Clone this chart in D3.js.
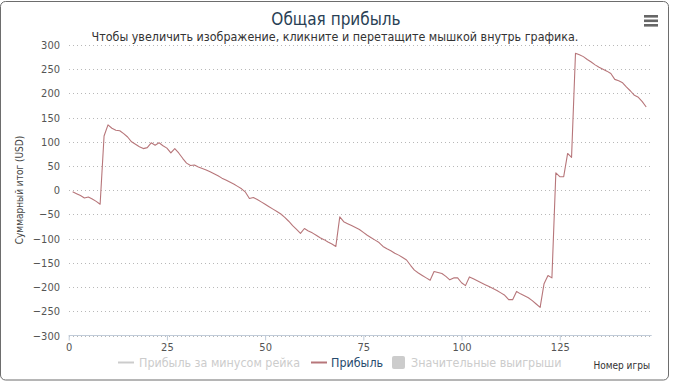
<!DOCTYPE html>
<html><head><meta charset="utf-8">
<script src="https://cdn.jsdelivr.net/npm/d3@7"></script>
<style>
html,body{margin:0;padding:0;background:#fff;}
svg{display:block;font-family:"DejaVu Sans Condensed","DejaVu Sans",sans-serif;}
</style></head><body>
<svg id="c" width="673" height="383"></svg>
<script>
const title = "Общая прибыль";
const subtitle = "Чтобы увеличить изображение, кликните и перетащите мышкой внутрь графика.";
const yTitle = "Суммарный итог (USD)";
const xTitle = "Номер игры";
const legendNames = ["Прибыль за минусом рейка", "Прибыль", "Значительные выигрыши"];
const xTicks = [0, 25, 50, 75, 100, 125];
const yTicks = [-300, -250, -200, -150, -100, -50, 0, 50, 100, 150, 200, 250, 300];
const profit = [
 -3, -7, -11, -16, -14, -18, -23, -29, 112, 135,
 128, 124, 123, 117, 110, 100, 95, 90, 86, 88,
 98, 93, 98, 92, 87, 77, 86, 77, 66, 56,
 51, 52, 48, 45, 42, 38, 34, 30, 25, 21,
 17, 13, 8, 3, -4, -17, -15, -19, -24, -29,
 -34, -39, -44, -49, -56, -64, -73, -81, -89, -79,
 -84, -88, -93, -98, -102, -107, -111, -116, -55, -65,
 -69, -73, -77, -81, -87, -93, -98, -103, -108, -116,
 -121, -125, -130, -134, -139, -144, -155, -165, -171, -176,
 -181, -186, -168, -170, -172, -178, -185, -181, -181, -191,
 -197, -179, -183, -187, -191, -195, -199, -203, -207, -212,
 -217, -226, -226, -209, -214, -218, -222, -228, -235, -242,
 -193, -176, -181, 36, 28, 28, 76, 68, 283, 280,
 276, 270, 265, 259, 254, 250, 246, 241, 229, 226,
 222, 213, 205, 196, 192, 183, 172
];

const svg = d3.select("#c");
const lineColor = "#b7767a";

// border
svg.append("rect").attr("x",0.5).attr("y",1.5).attr("width",668).attr("height",378.5)
  .attr("rx",5).attr("fill","none").attr("stroke","#6d6d6d").attr("stroke-width",1);

const x = d3.scaleLinear().domain([0, 148.4]).range([68.7, 651.7]);
const y = d3.scaleLinear().domain([-300, 300]).range([335.5, 45]);

// gridlines
svg.append("g").selectAll("line").data(yTicks).join("line")
  .attr("x1", 69).attr("x2", 652)
  .attr("y1", d => Math.round(y(d)) + 0.5).attr("y2", d => Math.round(y(d)) + 0.5)
  .attr("stroke", "#b8b8b8").attr("stroke-dasharray", "1,3");

// y labels
svg.append("g").selectAll("text").data(yTicks).join("text")
  .attr("x", 60).attr("y", d => y(d) + 4)
  .attr("text-anchor", "end").attr("font-size", 11).attr("fill", "#555")
  .text(d => d < 0 ? "\u2212" + Math.abs(d) : d);

// x axis
const xa = svg.append("g").attr("transform", "translate(0,335.5)")
  .call(d3.axisBottom(x).tickValues(xTicks).tickSize(5).tickPadding(3).tickFormat(d3.format("d")));
xa.select(".domain").attr("stroke", "#c0cbd8").attr("d", "M68.7,0H651.7");
xa.selectAll(".tick line").attr("stroke", "#c0cbd8");
xa.selectAll(".tick text").attr("font-size", 11).attr("fill", "#555")
  .attr("font-family", "DejaVu Sans Condensed, DejaVu Sans, sans-serif");

// line
const line = d3.line().x((d, i) => x(i + 1)).y(d => y(d));
svg.append("path").datum(profit).attr("d", line)
  .attr("fill", "none").attr("stroke", lineColor).attr("stroke-width", 1.1)
  .attr("stroke-linejoin", "round");

// titles
svg.append("text").attr("x", 336).attr("y", 25).attr("text-anchor", "middle")
  .attr("font-size", 17).attr("fill", "#2a3f55").text(title);
svg.append("text").attr("x", 335).attr("y", 41).attr("text-anchor", "middle")
  .attr("font-size", 12.4).attr("fill", "#333").text(subtitle);
svg.append("text").attr("transform", "translate(23,190) rotate(-90)")
  .attr("text-anchor", "middle").attr("font-size", 10).attr("fill", "#444").text(yTitle);
svg.append("text").attr("x", 650).attr("y", 369).attr("text-anchor", "end")
  .attr("font-size", 10).attr("fill", "#333").text(xTitle);

// menu icon
svg.append("g").selectAll("rect").data([0, 1, 2]).join("rect")
  .attr("x", 644).attr("y", d => 15 + d * 4.5).attr("width", 14).attr("height", 2.6)
  .attr("fill", "#666");

// legend
const lg = svg.append("g");
lg.append("line").attr("x1", 118).attr("x2", 134).attr("y1", 362.5).attr("y2", 362.5)
  .attr("stroke", "#ccc").attr("stroke-width", 2);
lg.append("text").attr("x", 139).attr("y", 367).attr("font-size", 12.4).attr("fill", "#ccc").text(legendNames[0]);
lg.append("line").attr("x1", 311).attr("x2", 327).attr("y1", 362.5).attr("y2", 362.5)
  .attr("stroke", lineColor).attr("stroke-width", 2);
lg.append("text").attr("x", 331).attr("y", 367).attr("font-size", 12.4).attr("fill", "#274b6d").text(legendNames[1]);
lg.append("rect").attr("x", 392).attr("y", 356).attr("width", 13).attr("height", 13).attr("rx", 2)
  .attr("fill", "#ccc");
lg.append("text").attr("x", 411).attr("y", 367).attr("font-size", 12.4).attr("fill", "#ccc").text(legendNames[2]);
</script></body></html>
